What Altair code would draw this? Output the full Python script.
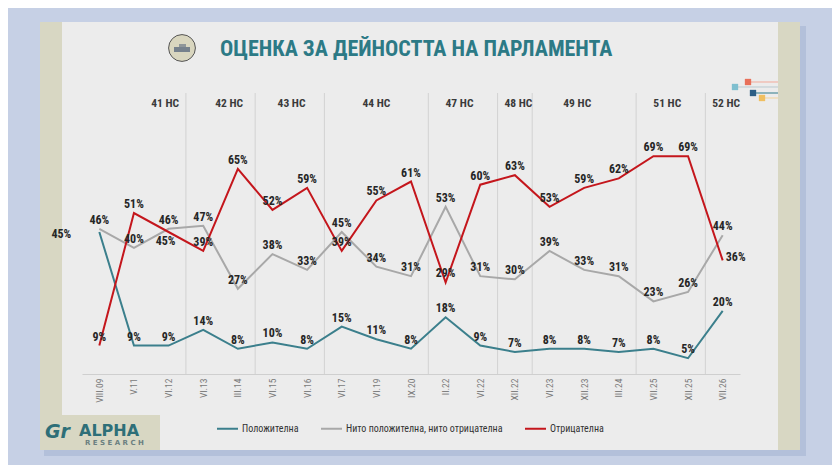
import json
import altair as alt
import pandas as pd

# ---------------- data ----------------
periods = ["VIII.09", "V.11", "VI.12", "VI.13", "III.14", "VI.15", "VI.16", "VI.17",
           "VI.19", "IX.20", "II.22", "VI.22", "XII.22", "VI.23", "XII.23", "III.24",
           "VII.25", "XII.25", "VII.26"]
positive = [45, 9, 9, 14, 8, 10, 8, 15, 11, 8, 18, 9, 7, 8, 8, 7, 8, 5, 20]
neutral = [46, 40, 46, 47, 27, 38, 33, 45, 34, 31, 53, 31, 30, 39, 33, 31, 23, 26, 44]
negative = [9, 51, 45, 39, 65, 52, 59, 39, 55, 61, 29, 60, 63, 53, 59, 62, 69, 69, 36]
series_names = ["Положителна", "Нито положителна, нито отрицателна", "Отрицателна"]

terms = ["41 НС", "42 НС", "43 НС", "44 НС", "47 НС", "48 НС", "49 НС", "51 НС", "52 НС"]
term_first = [0, 3, 5, 7, 10, 12, 13, 16, 18]        # index of first survey in each term
term_label_at = [1.9, 3.75, 5.55, 8.0, 10.4, 12.1, 13.8, 16.4, 18.1]

title_text = "ОЦЕНКА ЗА ДЕЙНОСТТА НА ПАРЛАМЕНТА"

# ---------------- tables ----------------
rows = []
for sid, (name, vals) in enumerate(zip(series_names, [positive, neutral, negative])):
    for i, v in enumerate(vals):
        rows.append({"idx": i, "period": periods[i], "series": name, "sid": sid, "value": v})
df = pd.DataFrame(rows)

seps = pd.DataFrame({"pos": [f - 0.5 for f in term_first[1:]]})
term_df = pd.DataFrame({"term": terms, "pos": term_label_at})
one = pd.DataFrame({"a": [0]})

W, H = 658, 284
FONT = "'Liberation Sans Narrow', 'Arial Narrow', 'Roboto Condensed', 'DejaVu Sans Condensed', Roboto, sans-serif"

xscale = alt.Scale(domain=[-0.5, len(periods) - 0.5], nice=False, zero=False)
yscale = alt.Scale(domain=[0, 90], nice=False)
label_expr = json.dumps(periods, ensure_ascii=False) + "[datum.value]"

X_AXIS = alt.Axis(values=list(range(len(periods))), labelExpr=label_expr, title=None,
                  labelAngle=270, labelFont=FONT, labelFontSize=9.5, labelColor="#7a7a7a",
                  labelOverlap=False, labelBound=False, labelFlush=False,
                  ticks=False, tickSize=0, labelPadding=4, grid=False,
                  domainColor="#cfcfcf", domainWidth=1, zindex=1)

colors = ["#3b7f8c", "#a8a8a8", "#c4161c"]


def rect(x1, x2, y1, y2, color, opacity=1.0):
    return alt.Chart(one).mark_rect(color=color, opacity=opacity).encode(
        x=alt.value(x1), x2=alt.value(x2), y=alt.value(y1), y2=alt.value(y2))


def hrule(x1, x2, y, color):
    return alt.Chart(one).mark_rule(color=color, strokeWidth=1).encode(
        x=alt.value(x1), x2=alt.value(x2), y=alt.value(y))


def square(x, y, color):
    return alt.Chart(one).mark_square(color=color, size=40, opacity=1).encode(
        x=alt.value(x), y=alt.value(y))


# background card and decorations
shadow = rect(-38, 724, -64, 366, "#9fb0cf", 0.5)
card = rect(-42, 718, -68, 360, "#ececec")
left_strip = rect(-42, -20, -68, 327, "#d8d7c3")
right_strip = rect(696, 718, -68, 360, "#d8d7c3")
logo_box = rect(-42, 78, 325, 360, "#d8d7c3")

decor = [
    hrule(666, 696, -8, "#f2a999"), square(666, -8, "#e8705a"),
    hrule(653, 696, -3, "#b9c9cf"), square(653, -3, "#7fbfcf"),
    hrule(671, 696, 3, "#2f7a8a"), square(671, 3, "#2d5f86"),
    hrule(680, 696, 8, "#f3d39a"), square(680, 8, "#f0bf60"),
]

emblem = alt.Chart(one).mark_point(shape="circle", filled=True, size=720, fill="#d9d6bf",
                                   stroke="#555555", strokeWidth=1, opacity=1).encode(
    x=alt.value(100), y=alt.value(-42))
emblem_bld = rect(92, 108, -43, -38, "#5d6b80", 0.8)
emblem_top = rect(97, 104, -46, -43, "#5d6b80", 0.6)

title = alt.Chart(one).mark_text(text=title_text, font=FONT, fontSize=22, fontWeight="bold",
                                 color="#2c7a86", align="left", baseline="middle").encode(
    x=alt.value(138), y=alt.value(-41))

alpha_icon = alt.Chart(one).mark_text(text="Gr", font="DejaVu Sans", fontSize=19, fontWeight="bold",
                                      fontStyle="italic", color="#2e6f78", align="left",
                                      baseline="middle").encode(x=alt.value(-37), y=alt.value(342))
alpha_txt = alt.Chart(one).mark_text(text="ALPHA", font="DejaVu Sans", fontSize=16, fontWeight="bold",
                                     color="#2e6f78", align="left", baseline="middle").encode(
    x=alt.value(-3), y=alt.value(341))
alpha_sub = alt.Chart(one).mark_text(text="R E S E A R C H", font="DejaVu Sans", fontSize=7,
                                     fontWeight="bold", color="#6b7f80", align="left",
                                     baseline="middle").encode(x=alt.value(3), y=alt.value(353))

# chart layers
separators = alt.Chart(seps).mark_rule(color="#d2d2d2", strokeWidth=1).encode(
    x=alt.X("pos:Q", scale=xscale, axis=X_AXIS), y=alt.value(3), y2=alt.value(H))

term_labels = alt.Chart(term_df).mark_text(font=FONT, fontSize=11.5, fontWeight="bold",
                                           color="#3a3a3a", baseline="middle").encode(
    x=alt.X("pos:Q", scale=xscale, axis=X_AXIS), y=alt.value(14), text="term:N")

lines = alt.Chart(df).mark_line(strokeWidth=2).encode(
    x=alt.X("idx:Q", scale=xscale, axis=X_AXIS),
    y=alt.Y("value:Q", scale=yscale, axis=None),
    color=alt.Color("series:N", sort=series_names,
                    scale=alt.Scale(domain=series_names, range=colors),
                    legend=alt.Legend(title=None, orient="none", legendX=134, legendY=327,
                                      direction="horizontal", symbolType="stroke",
                                      symbolStrokeWidth=2, symbolSize=441, labelFont=FONT,
                                      labelFontSize=10, labelColor="#333333", labelOffset=3,
                                      labelLimit=0, columnPadding=18, zindex=1)),
    detail="sid:N",
)

base_txt = alt.Chart(df).transform_calculate(lbl="datum.value + '%'")
txt_kw = dict(font=FONT, fontSize=12, fontWeight="bold", color="#262626", baseline="middle")
enc = dict(x=alt.X("idx:Q", scale=xscale, axis=X_AXIS), y=alt.Y("value:Q", scale=yscale, axis=None),
           text="lbl:N")

exc1 = "datum.sid == 0 && datum.idx == 0"
exc2 = "datum.sid == 2 && datum.idx == 2"
exc3 = "datum.sid == 2 && datum.idx == 18"

labels_main = base_txt.transform_filter(f"!({exc1}) && !({exc2}) && !({exc3})").mark_text(
    dy=-9, **txt_kw).encode(**enc)
labels_e1 = base_txt.transform_filter(exc1).mark_text(dx=-38, dy=2, **txt_kw).encode(**enc)
labels_e2 = base_txt.transform_filter(exc2).mark_text(dx=-3, dy=9, **txt_kw).encode(**enc)
labels_e3 = base_txt.transform_filter(exc3).mark_text(dx=13, dy=-3, **txt_kw).encode(**enc)

chart = alt.layer(
    shadow, card, left_strip, right_strip, logo_box, *decor, emblem, emblem_bld, emblem_top, title,
    alpha_icon, alpha_txt, alpha_sub,
    separators, term_labels, lines, labels_main, labels_e1, labels_e2, labels_e3,
).properties(
    width=W, height=H, background="#c6d0e5",
    padding={"left": 74, "top": 82, "right": 92, "bottom": 91},
    autosize=alt.AutoSizeParams(type="none"),
).configure_view(stroke=None).configure_axisX(labelOverlap=False)

chart.save("out.html", embed_options={"renderer": "svg", "actions": False})
